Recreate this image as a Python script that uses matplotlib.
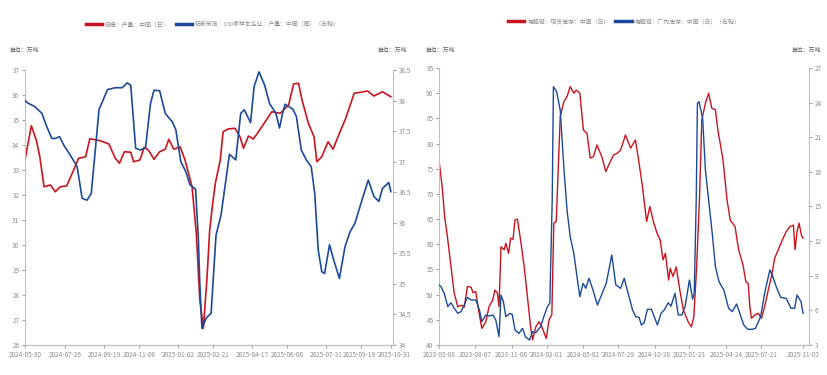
import numpy as np
import pandas as pd
import matplotlib
matplotlib.use("Agg")
import matplotlib.pyplot as plt
import matplotlib.transforms as mtransforms
from matplotlib.ticker import FuncFormatter, MultipleLocator

plt.rcParams['font.family'] = ['Liberation Sans Narrow', 'Noto Sans CJK SC', 'DejaVu Sans']

RED = "#C8141E"
BLUE = "#1B4A98"
GRAY = "#8C8C8C"

# ---------------- left chart: 铝棒 / 铝板带箔 ----------------
rod_dates = ["2024-05-30", "2024-06-08", "2024-06-15", "2024-06-20", "2024-06-26", "2024-07-05",
             "2024-07-12", "2024-07-19", "2024-07-28", "2024-08-07", "2024-08-14", "2024-08-24",
             "2024-08-30", "2024-09-14", "2024-09-26", "2024-10-05", "2024-10-11", "2024-10-18",
             "2024-10-27", "2024-10-31", "2024-11-09", "2024-11-15", "2024-11-21", "2024-11-29",
             "2024-12-07", "2024-12-15", "2024-12-20", "2024-12-27", "2025-01-05", "2025-01-12",
             "2025-01-22", "2025-01-28", "2025-02-02", "2025-02-07", "2025-02-12", "2025-02-16",
             "2025-02-20", "2025-02-24", "2025-03-03", "2025-03-07", "2025-03-14", "2025-03-24",
             "2025-03-31", "2025-04-05", "2025-04-12", "2025-04-19", "2025-05-01", "2025-05-15",
             "2025-05-27", "2025-06-08", "2025-06-15", "2025-06-22", "2025-06-27", "2025-07-06",
             "2025-07-14", "2025-07-18", "2025-07-25", "2025-08-03", "2025-08-10", "2025-08-18",
             "2025-08-28", "2025-09-09", "2025-09-18", "2025-09-28", "2025-10-07", "2025-10-19",
             "2025-10-31"]
rod_values = [33.4, 34.77, 34.2, 33.53, 32.33, 32.4,
              32.13, 32.33, 32.36, 33.0, 33.47, 33.53,
              34.25, 34.17, 34.04, 33.47, 33.27, 33.73,
              33.71, 33.33, 33.4, 33.91, 33.8, 33.43,
              33.73, 33.83, 34.23, 33.83, 33.93, 33.4,
              32.33, 30.48, 27.8, 26.67, 28.6, 30.6,
              31.6, 32.47, 33.4, 34.53, 34.64, 34.67,
              34.33, 33.87, 34.36, 34.24, 34.73, 35.33,
              35.27, 35.6, 36.44, 36.47, 35.8, 34.87,
              34.33, 33.33, 33.53, 34.13, 33.83, 34.4,
              35.07, 36.07, 36.11, 36.16, 35.96, 36.13,
              35.93]

strip_dates = ["2024-05-30", "2024-06-03", "2024-06-13", "2024-06-23", "2024-06-30", "2024-07-07",
               "2024-07-12", "2024-07-18", "2024-07-24", "2024-08-02", "2024-08-12", "2024-08-19",
               "2024-08-26", "2024-09-01", "2024-09-12", "2024-09-24", "2024-10-05", "2024-10-15",
               "2024-10-22", "2024-10-27", "2024-11-03", "2024-11-10", "2024-11-17", "2024-11-24",
               "2024-11-29", "2024-12-07", "2024-12-15", "2024-12-25", "2024-12-30", "2025-01-06",
               "2025-01-13", "2025-01-19", "2025-01-27", "2025-01-31", "2025-02-02", "2025-02-05",
               "2025-02-11", "2025-02-18", "2025-02-25", "2025-03-04", "2025-03-16", "2025-03-25",
               "2025-04-01", "2025-04-06", "2025-04-15", "2025-04-20", "2025-04-27", "2025-05-05",
               "2025-05-12", "2025-05-21", "2025-05-26", "2025-05-31", "2025-06-03", "2025-06-14",
               "2025-06-19", "2025-06-26", "2025-07-03", "2025-07-10", "2025-07-15", "2025-07-20",
               "2025-07-25", "2025-07-29", "2025-08-05", "2025-08-11", "2025-08-19", "2025-08-27",
               "2025-09-03", "2025-09-10", "2025-09-20", "2025-09-29", "2025-10-07", "2025-10-14",
               "2025-10-19", "2025-10-28", "2025-10-31"]
strip_values = [38.0, 37.96, 37.9, 37.79, 37.57, 37.38,
                37.38, 37.41, 37.27, 37.11, 36.92, 36.40,
                36.37, 36.48, 37.85, 38.18, 38.21, 38.21,
                38.29, 38.25, 37.22, 37.19, 37.23, 37.95,
                38.17, 38.16, 37.79, 37.65, 37.52, 37.0,
                36.84, 36.62, 36.55, 35.72, 35.0, 34.27,
                34.44, 34.52, 35.8, 36.12, 37.12, 37.03,
                37.79, 37.85, 37.64, 38.23, 38.47, 38.25,
                37.95, 37.79, 37.55, 37.82, 37.94, 37.86,
                37.74, 37.19, 37.03, 36.92, 36.48, 35.55,
                35.2, 35.17, 35.64, 35.39, 35.09, 35.61,
                35.85, 35.99, 36.37, 36.7, 36.43, 36.35,
                36.56, 36.66, 36.51]

left_ticks = ["2024-05-30", "2024-07-26", "2024-09-19", "2024-11-08", "2025-01-02", "2025-02-21",
              "2025-04-17", "2025-06-06", "2025-07-31", "2025-09-19", "2025-10-31"]

# ---------------- right chart: 电解铝 库存 ----------------
spot_dates = ["2023-05-08", "2023-05-16", "2023-05-22", "2023-05-29", "2023-06-06", "2023-06-15",
              "2023-06-24", "2023-07-02", "2023-07-10", "2023-07-18", "2023-07-27", "2023-08-01",
              "2023-08-08", "2023-08-15", "2023-08-23", "2023-09-02", "2023-09-10", "2023-09-19",
              "2023-09-25", "2023-10-01", "2023-10-05", "2023-10-10", "2023-10-18", "2023-10-22",
              "2023-10-29", "2023-11-03", "2023-11-09", "2023-11-14", "2023-11-20", "2023-11-28",
              "2023-12-07", "2023-12-15", "2023-12-23", "2023-12-28", "2024-01-05", "2024-01-13",
              "2024-01-20", "2024-01-31", "2024-02-07", "2024-02-14", "2024-02-19", "2024-02-25",
              "2024-03-06", "2024-03-15", "2024-03-23", "2024-03-31", "2024-04-09", "2024-04-15",
              "2024-04-24", "2024-05-03", "2024-05-12", "2024-05-20", "2024-05-28", "2024-06-06",
              "2024-06-18", "2024-06-28", "2024-07-05", "2024-07-17", "2024-07-27", "2024-08-04",
              "2024-08-16", "2024-08-29", "2024-09-10", "2024-09-18", "2024-09-27", "2024-10-08",
              "2024-10-16", "2024-10-26", "2024-11-03", "2024-11-11", "2024-11-18", "2024-11-24",
              "2024-12-02", "2024-12-06", "2024-12-13", "2024-12-21", "2024-12-30", "2025-01-08",
              "2025-01-20", "2025-01-28", "2025-02-03", "2025-02-10", "2025-02-17", "2025-02-23",
              "2025-03-04", "2025-03-12", "2025-03-20", "2025-03-29", "2025-04-04", "2025-04-10",
              "2025-04-17", "2025-04-27", "2025-05-05", "2025-05-17", "2025-05-26", "2025-06-06",
              "2025-06-13", "2025-06-19", "2025-06-23", "2025-06-27", "2025-07-06", "2025-07-14",
              "2025-07-22", "2025-07-30", "2025-08-08", "2025-08-16", "2025-08-24", "2025-09-02",
              "2025-09-12", "2025-09-22", "2025-10-01", "2025-10-10", "2025-10-14", "2025-10-19",
              "2025-10-24", "2025-10-30", "2025-11-03"]
spot_values = [76.7, 71.4, 65.5, 61.5, 56.2, 50.3,
               47.6, 47.9, 47.5, 51.6, 51.5, 50.4,
               50.6, 46.9, 43.3, 44.6, 47.6, 48.9,
               50.9, 50.3, 47.6, 59.5, 58.9, 60.2,
               58.2, 61.2, 61.0, 64.8, 65.0, 60.8,
               55.5, 49.6, 43.6, 41.0, 43.6, 44.6,
               43.6, 41.3, 45.0, 46.0, 64.2, 64.5,
               85.3, 88.3, 89.3, 91.3, 90.0, 90.6,
               90.0, 82.7, 82.0, 77.1, 77.4, 79.7,
               77.4, 74.4, 75.7, 77.7, 78.1, 78.7,
               81.7, 79.1, 80.7, 76.7, 71.8, 64.5,
               67.5, 64.2, 62.2, 60.8, 56.9, 58.2,
               52.9, 55.2, 53.6, 55.5, 50.9, 46.9,
               44.6, 43.6, 45.6, 55.5, 68.8, 84.7,
               88.0, 90.0, 87.0, 86.7, 82.7, 80.0,
               76.7, 68.8, 64.8, 63.5, 58.9, 55.9,
               52.6, 52.2, 47.6, 45.3, 46.0, 46.3,
               45.3, 47.6, 50.9, 53.6, 57.2, 58.9,
               60.8, 62.5, 63.5, 63.8, 58.9, 62.5,
               64.2, 61.8, 61.2]

plant_dates = ["2023-05-08", "2023-05-13", "2023-05-21", "2023-05-30", "2023-06-07", "2023-06-15",
               "2023-06-24", "2023-07-02", "2023-07-10", "2023-07-18", "2023-07-27", "2023-08-08",
               "2023-08-17", "2023-08-23", "2023-09-02", "2023-09-10", "2023-09-20", "2023-09-27",
               "2023-10-05", "2023-10-10", "2023-10-16", "2023-10-22", "2023-11-01", "2023-11-07",
               "2023-11-14", "2023-11-24", "2023-12-03", "2023-12-10", "2023-12-20", "2023-12-28",
               "2024-01-05", "2024-01-17", "2024-01-25", "2024-02-03", "2024-02-09", "2024-02-15",
               "2024-02-18", "2024-02-26", "2024-03-06", "2024-03-15", "2024-03-23", "2024-03-31",
               "2024-04-09", "2024-04-17", "2024-04-24", "2024-05-02", "2024-05-09", "2024-05-17",
               "2024-05-27", "2024-06-07", "2024-06-19", "2024-06-29", "2024-07-13", "2024-07-23",
               "2024-08-04", "2024-08-13", "2024-08-25", "2024-09-03", "2024-09-11", "2024-09-19",
               "2024-09-25", "2024-10-02", "2024-10-10", "2024-10-20", "2024-10-27", "2024-11-04",
               "2024-11-13", "2024-11-21", "2024-12-01", "2024-12-08", "2024-12-18", "2024-12-26",
               "2025-01-04", "2025-01-12", "2025-01-23", "2025-01-31", "2025-02-04", "2025-02-09",
               "2025-02-12", "2025-02-16", "2025-02-25", "2025-03-04", "2025-03-12", "2025-03-21",
               "2025-03-29", "2025-04-07", "2025-04-19", "2025-05-01", "2025-05-10", "2025-05-21",
               "2025-05-29", "2025-06-08", "2025-06-18", "2025-06-29", "2025-07-07", "2025-07-20",
               "2025-07-30", "2025-08-12", "2025-08-18", "2025-08-28", "2025-09-08", "2025-09-22",
               "2025-10-04", "2025-10-13", "2025-10-19", "2025-10-29", "2025-11-03"]
plant_values = [8.2, 8.05, 7.48, 6.32, 6.66, 6.18,
                5.74, 5.89, 6.46, 7.13, 6.9, 6.9,
                6.03, 5.02, 5.6, 5.51, 5.6, 5.16,
                3.72, 7.33, 6.75, 5.45, 5.74, 5.66,
                4.30, 4.01, 4.44, 3.72, 3.43, 4.15,
                4.07, 4.59, 5.45, 6.32, 6.61, 15.56,
                25.38, 24.95, 23.36, 18.45, 14.7, 12.38,
                10.94, 8.91, 7.18, 8.34, 7.91, 8.78,
                7.76, 6.46, 7.48, 8.34, 10.8, 8.2,
                7.91, 8.78, 7.18, 6.03, 5.45, 5.4,
                4.73, 4.93, 6.09, 6.09, 5.45, 4.73,
                5.74, 6.03, 6.66, 6.37, 7.48, 5.6,
                5.6, 6.32, 8.63, 6.96, 7.48, 15.56,
                23.94, 24.08, 22.64, 18.16, 15.56, 12.68,
                9.78, 8.48, 7.76, 6.18, 5.89, 6.55,
                5.74, 4.73, 4.36, 4.36, 4.44, 5.45,
                7.48, 9.5, 9.06, 8.05, 7.13, 7.04,
                6.18, 6.18, 7.33, 6.75, 5.74]

right_ticks = ["2023-05-08", "2023-08-07", "2023-11-06", "2024-02-01", "2024-05-02", "2024-07-29",
               "2024-10-28", "2025-01-23", "2025-04-24", "2025-07-21", "2025-11-03"]


def fmt(v, pos):
    return f"{v:g}"


def style_axes(ax, ax2, ticks, xlim):
    for a in (ax, ax2):
        for s in a.spines.values():
            s.set_color("#BFBFBF")
            s.set_linewidth(0.8)
        a.spines['top'].set_visible(False)
        a.tick_params(colors=GRAY, labelsize=4.6, length=2.5, width=0.6, pad=1.5)
    ax.spines['right'].set_visible(False)
    ax2.spines['left'].set_visible(False)
    ax.set_xticks(pd.to_datetime(ticks))
    ax.set_xticklabels(ticks)
    ax.set_xlim(pd.to_datetime(xlim[0]), pd.to_datetime(xlim[1]))
    ax.yaxis.set_major_formatter(FuncFormatter(fmt))
    ax2.yaxis.set_major_formatter(FuncFormatter(fmt))


fig = plt.figure(figsize=(8.28, 3.75), dpi=100)

# left panel
axL = fig.add_axes([0.0302, 0.08, 0.4444, 0.7333])
axL2 = axL.twinx()
axL.plot(pd.to_datetime(rod_dates), rod_values, color=RED, lw=1.2, label="铝棒：产量：中国（日）")
axL2.plot(pd.to_datetime(strip_dates), strip_values, color=BLUE, lw=1.2,
          label="铝板带箔：130家样本企业：产量：中国（周）（右轴）")
axL.set_ylim(26, 37)
axL.yaxis.set_major_locator(MultipleLocator(1))
axL2.set_ylim(34, 38.5)
axL2.yaxis.set_major_locator(MultipleLocator(0.5))
style_axes(axL, axL2, left_ticks, ("2024-05-30", "2025-11-03"))

# the last two date labels sit close together, nudge them apart a little
labs = axL.get_xticklabels()
labs[-1].set_transform(labs[-1].get_transform() +
                       mtransforms.ScaledTranslation(0.03, 0, fig.dpi_scale_trans))
labs[-2].set_transform(labs[-2].get_transform() +
                       mtransforms.ScaledTranslation(-0.02, 0, fig.dpi_scale_trans))

# right panel
axR = fig.add_axes([0.5302, 0.08, 0.4469, 0.7387])
axR2 = axR.twinx()
axR.plot(pd.to_datetime(spot_dates), spot_values, color=RED, lw=1.0, label="电解铝：现货库存：中国（日）")
axR2.plot(pd.to_datetime(plant_dates), plant_values, color=BLUE, lw=1.0,
          label="电解铝：厂内库存：中国（日）（右轴）")
axR.set_ylim(40, 95)
axR.yaxis.set_major_locator(MultipleLocator(5))
axR2.set_ylim(3, 27)
axR2.yaxis.set_major_locator(MultipleLocator(3))
style_axes(axR, axR2, right_ticks, ("2023-05-08", "2025-11-18"))

# legends
for a, a2, cx, cy in ((axL, axL2, 0.257, 0.935), (axR, axR2, 0.754, 0.944)):
    h1, l1 = a.get_legend_handles_labels()
    h2, l2 = a2.get_legend_handles_labels()
    leg = fig.legend(h1 + h2, l1 + l2, loc="center", bbox_to_anchor=(cx, cy), ncol=2,
                     frameon=False, fontsize=4.2, handlelength=2.8, handletextpad=0.5,
                     columnspacing=1.0, labelcolor=GRAY)
    for line in leg.get_lines():
        line.set_linewidth(2.5)

# units
for x, ha in ((0.012, "left"), (0.492, "right"), (0.514, "left"), (0.992, "right")):
    fig.text(x, 0.867, "单位：万吨", ha=ha, va="center", fontsize=4.2, color="#595959")

fig.savefig("out.png", dpi=100)
